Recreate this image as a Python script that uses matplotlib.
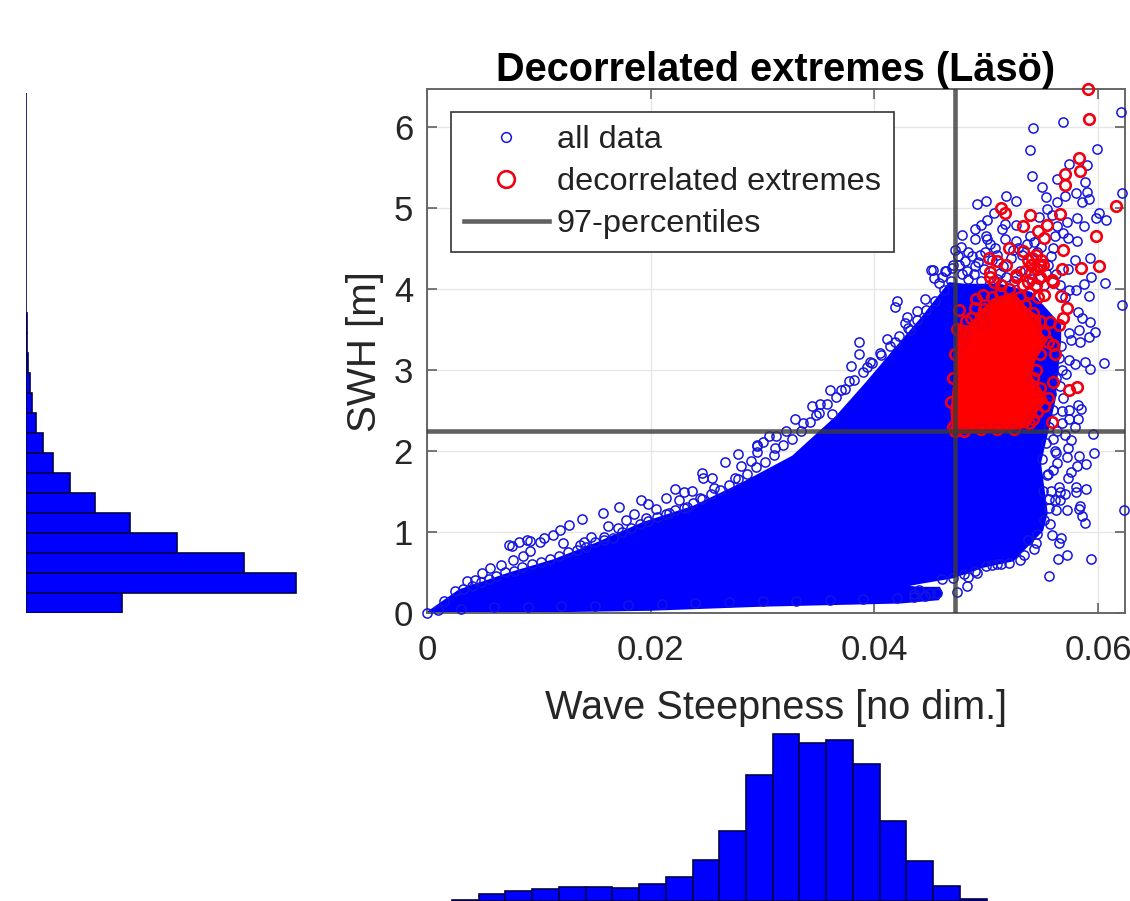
import matplotlib
matplotlib.use('Agg')
import matplotlib.pyplot as plt

plt.rcParams['font.family'] = ['Liberation Sans', 'DejaVu Sans']

cloud_x = [0, .0029, .0074, .0113, .0152, .0193, .0238, .0282, .0327, .0366, .0393, .0423, .0443, .0467, .0481, .0512, .0540, .0566,
           .0566, .0561, .0548, .0554, .0550, .0524, .0497, .0470, .0440, .0425, .0440, .0458, .0460, .0457, .0423, .0298, .0199, .0104, .0045]
cloud_y = [0, .28, .49, .65, .86, 1.11, 1.31, 1.60, 1.93, 2.42, 2.84, 3.33, 3.65, 4.07, 4.05, 4.05, 3.95, 3.55,
           3.37, 2.63, 1.85, 1.23, 1.02, .65, .57, .44, .37, .33, .31, .31, .25, .17, .13, .09, .04, .02, 0]
core_x = [.0470, .0469, .0473, .0475, .0485, .0494, .0506, .0524, .0537, .0548, .0549, .0554, .0543, .0540, .0546, .0554, .0546, .0537, .0512]
core_y = [2.22, 2.51, 3.08, 3.54, 3.54, 3.70, 3.87, 3.95, 3.74, 3.64, 3.45, 3.37, 3.12, 2.92, 2.81, 2.63, 2.51, 2.30, 2.24]

# single rings along the upper edge of the cloud
upper_edge = [(0, 0), (.0036, .39), (.0043, .41), (.0049, .49), (.0056, .55), (.0066, .59), (.0077, .65), (.0086, .70),
              (.0092, .76), (.0073, .84), (.0076, .83), (.0082, .88), (.0089, .90), (.0092, .89), (.0101, .88), (.0105, .92),
              (.0113, .96), (.0119, 1.03), (.0127, 1.09), (.0139, 1.16), (.0157, 1.24), (.0172, 1.31), (.0191, 1.40), (.0198, 1.35),
              (.0205, 1.28), (.0214, 1.42), (.0222, 1.53), (.0230, 1.49), (.0237, 1.51), (.0246, 1.73), (.0247, 1.66), (.0255, 1.66),
              (.0266, 1.86), (.0278, 1.96), (.0281, 1.81), (.0290, 1.87), (.0295, 2.06), (.0295, 1.99), (.0122, .86), (.0147, .94),
              (.0140, .88), (.0137, .84), (.0162, 1.07), (.0158, .94), (.0171, 1.05), (.0178, 1.15), (.0185, 1.22), (.0196, 1.17),
              (.0216, 1.23), (.0225, 1.40), (.0232, 1.31), (.0244, 1.42), (.0257, 1.54), (.0275, 1.66), (.0295, 2.07), (.0300, 2.11),
              (.0306, 2.18), (.0312, 2.18), (.0311, 2.03), (.0321, 2.25), (.0329, 2.40), (.0344, 2.56), (.0351, 2.58), (.0360, 2.75),
              (.0370, 2.75), (.0377, 2.86), (.0379, 3.05), (.0386, 3.35), (.0386, 3.20), (.0393, 3.04), (.0405, 3.21), (.0411, 3.38),
              (.0418, 3.77), (.0420, 3.85), (.0429, 3.65), (.0427, 3.58), (.0438, 3.73), (.0445, 3.88), (.0451, 4.23), (.0453, 4.14),
              (.0463, 4.22), (.0458, 4.07), (.0470, 4.30), (.0432, 3.49), (.0418, 3.35), (.0396, 3.10), (.0362, 2.46), (.0348, 2.44), (.0336, 2.34)]

# rings hugging the outline of the dense part
edge_fill = [(.0015, .15), (.0025, .27), (.0032, .30), (.0040, .33), (.0048, .38), (.0055, .42), (.0062, .46), (.0070, .50),
             (.0078, .52), (.0085, .57), (.0094, .60), (.0102, .63), (.0110, .67), (.0118, .70), (.0126, .75), (.0134, .78),
             (.0142, .82), (.0150, .87), (.0158, .90), (.0166, .93), (.0174, 1.00), (.0182, 1.05), (.0190, 1.10), (.0198, 1.14),
             (.0206, 1.18), (.0214, 1.22), (.0222, 1.27), (.0230, 1.30), (.0238, 1.36), (.0246, 1.41), (.0254, 1.47), (.0262, 1.52),
             (.0270, 1.58), (.0278, 1.65), (.0286, 1.72), (.0294, 1.80), (.0302, 1.86), (.0310, 1.95), (.0318, 2.07), (.0326, 2.15),
             (.0334, 2.25), (.0342, 2.36), (.0350, 2.47), (.0358, 2.58), (.0366, 2.67), (.0374, 2.76), (.0382, 2.88), (.0390, 2.98),
             (.0398, 3.08), (.0406, 3.18), (.0414, 3.30), (.0422, 3.42), (.0430, 3.52), (.0438, 3.62), (.0446, 3.74), (.0454, 3.85),
             (.0462, 3.98), (.0468, 4.10), (.0010, .04), (.0030, .05), (.0060, .07), (.0090, .08), (.0120, .09), (.0150, .09),
             (.0180, .10), (.0210, .11), (.0240, .12), (.0270, .13), (.0300, .15), (.0330, .15), (.0360, .16), (.0390, .17),
             (.0420, .19), (.0435, .20), (.0445, .21), (.0440, .28), (.0450, .25), (.0435, .24), (.0545, .98), (.0552, 1.15),
             (.0556, 1.30), (.0551, 1.50), (.0554, 1.70), (.0550, 1.90), (.0553, 2.10), (.0556, 2.30), (.0560, 2.50), (.0558, 2.70),
             (.0530, .66), (.0520, .62), (.0510, .60), (.0500, .58), (.0490, .52), (.0480, .48), (.0470, .43), (.0460, .42)]

# rings above and to the right of the dense part
top_scatter = [(.0620, 6.18), (.0569, 6.06), (.0542, 5.99), (.0539, 5.71), (.0599, 5.73), (.0541, 5.39), (.0574, 5.54), (.0590, 5.53),
               (.0563, 5.36), (.0588, 5.32), (.0550, 5.26), (.0590, 5.19), (.0580, 5.18), (.0621, 5.18), (.0553, 5.13), (.0570, 5.14),
               (.0592, 5.11), (.0586, 5.07), (.0518, 5.14), (.0527, 5.08), (.0500, 5.09), (.0492, 5.05), (.0563, 5.07), (.0554, 4.98),
               (.0601, 4.94), (.0598, 4.87), (.0607, 4.85), (.0581, 4.87), (.0587, 4.77), (.0559, 4.91), (.0547, 4.89), (.0572, 4.82),
               (.0501, 4.85), (.0507, 4.94), (.0495, 4.79), (.0490, 4.74), (.0517, 4.80), (.0514, 4.74), (.0527, 4.79), (.0563, 4.78),
               (.0561, 4.65), (.0569, 4.69), (.0573, 4.63), (.0581, 4.59), (.0539, 4.65), (.0517, 4.62), (.0500, 4.65), (.0501, 4.61),
               (.0478, 4.66), (.0490, 4.61), (.0527, 4.59), (.0477, 4.52), (.0508, 4.50), (.0528, 4.50), (.0560, 4.50), (.0579, 4.35),
               (.0593, 4.38), (.0573, 4.24), (.0594, 4.15), (.0484, 4.46), (.0487, 4.40), (.0494, 4.42), (.0475, 4.40), (.0481, 4.34),
               (.0490, 4.28), (.0452, 4.23), (.0464, 4.22), (.0469, 4.26), (.0460, 4.15), (.0498, 4.25), (.0505, 4.35), (.0515, 4.28),
               (.0522, 4.38), (.0530, 4.22), (.0545, 4.45), (.0555, 4.30), (.0562, 4.18), (.0478, 4.18), (.0484, 4.12), (.0495, 4.10),
               (.0510, 4.12), (.0525, 4.10), (.0541, 4.12), (.0552, 4.05), (.0566, 4.05), (.0574, 3.98), (.0570, 3.90), (.0472, 4.48),
               (.0476, 4.30), (.0483, 4.22), (.0489, 4.18), (.0493, 4.33), (.0499, 4.46), (.0503, 4.55), (.0510, 4.42), (.0512, 4.20),
               (.0518, 4.15), (.0524, 4.48), (.0532, 4.42), (.0536, 4.55), (.0543, 4.58), (.0549, 4.52), (.0553, 4.20), (.0558, 4.40)]
right_scatter = [(.0621, 3.80), (.0592, 3.91), (.0606, 4.07), (.0587, 4.06), (.0580, 3.99), (.0582, 3.71), (.0586, 3.64), (.0593, 3.59),
                 (.0597, 3.47), (.0583, 3.49), (.0574, 3.45), (.0576, 3.37), (.0584, 3.35), (.0592, 3.41), (.0605, 3.09), (.0588, 3.10),
                 (.0593, 3.01), (.0574, 3.12), (.0579, 3.07), (.0571, 2.95), (.0569, 2.65), (.0582, 2.57), (.0585, 2.52), (.0574, 2.51),
                 (.0574, 2.40), (.0582, 2.40), (.0568, 2.49), (.0579, 2.29), (.0595, 2.21), (.0576, 2.13), (.0596, 1.97), (.0583, 1.94),
                 (.0573, 2.03), (.0561, 2.00), (.0572, 1.93), (.0589, 1.84), (.0581, 1.81), (.0576, 1.74), (.0573, 1.67), (.0580, 1.56),
                 (.0589, 1.53), (.0580, 1.49), (.0570, 1.47), (.0566, 1.40), (.0584, 1.32), (.0583, 1.28), (.0572, 1.27), (.0562, 1.27),
                 (.0623, 1.27), (.0586, 1.20), (.0588, 1.11), (.0559, .96), (.0567, .93), (.0565, .86), (.0544, .86), (.0543, .79),
                 (.0534, .72), (.0537, .90), (.0572, .71), (.0564, .67), (.0594, .67), (.0556, .46), (.0513, .61), (.0505, .59),
                 (.0492, .49), (.0484, .45), (.0483, .33), (.0474, .26), (.0456, .25), (.0562, 1.97), (.0563, 1.85), (.0560, 1.77),
                 (.0565, 1.55), (.0566, 1.49), (.0557, 1.10), (.0555, 1.72), (.0561, 1.40), (.0558, 1.51), (.0556, 1.41), (.0567, 3.30),
                 (.0565, 3.15), (.0568, 3.00), (.0562, 2.90), (.0566, 2.80), (.0568, 2.35), (.0563, 2.25), (.0560, 2.15), (.0570, 2.20)]

# decorrelated extremes outside the solid red part
extremes = [(.0591, 6.46), (.0592, 6.09), (.0583, 5.61), (.0584, 5.46), (.0570, 5.42), (.0570, 5.28), (.0616, 5.02), (.0513, 5.00),
            (.0517, 4.93), (.0539, 4.91), (.0566, 4.92), (.0533, 4.77), (.0554, 4.79), (.0546, 4.71), (.0552, 4.63), (.0598, 4.65),
            (.0520, 4.50), (.0569, 4.48), (.0533, 4.47), (.0601, 4.28), (.0585, 4.26), (.0568, 4.24), (.0502, 4.38), (.0510, 4.34),
            (.0518, 4.30), (.0537, 4.36), (.0544, 4.42), (.0549, 4.36), (.0540, 4.30), (.0551, 4.30), (.0503, 4.21), (.0527, 4.17),
            (.0548, 4.15), (.0559, 4.11), (.0560, 4.08), (.0552, 3.93), (.0567, 3.91), (.0572, 3.76), (.0569, 3.64), (.0565, 3.56),
            (.0557, 3.59), (.0560, 3.31), (.0561, 3.19), (.0560, 2.85), (.0574, 2.75), (.0581, 2.79), (.0559, 2.36), (.0542, 2.40),
            (.0479, 3.47), (.0478, 3.35), (.0476, 3.74), (.0497, 3.93), (.0490, 3.76), (.0486, 3.64), (.0497, 3.58), (.0507, 4.08),
            (.0503, 4.15), (.0527, 4.15), (.0537, 4.08), (.0547, 4.13), (.0535, 4.22), (.0545, 4.25), (.0541, 4.38), (.0548, 4.28),
            (.0470, 2.30), (.0468, 2.60), (.0470, 2.90), (.0472, 3.20), (.0474, 3.50), (.0482, 3.60), (.0498, 3.75), (.0505, 3.90),
            (.0512, 3.95), (.0520, 4.00), (.0530, 3.90), (.0535, 3.80), (.0542, 3.70), (.0548, 3.60), (.0552, 3.45), (.0555, 3.35),
            (.0548, 3.20), (.0544, 3.00), (.0542, 2.90), (.0548, 2.78), (.0555, 2.65), (.0552, 2.55), (.0545, 2.48), (.0538, 2.35),
            (.0525, 2.27), (.0510, 2.27), (.0495, 2.27), (.0480, 2.25), (.0472, 2.25), (.0540, 4.20), (.0544, 4.05), (.0538, 3.95),
            (.0546, 3.90), (.0533, 4.05), (.0513, 4.05), (.0491, 3.88)]

steepness_pct = .0472
swh_pct = 2.25

# histogram of steepness (bars run off the bottom of the page)
steep_edges = [.00223, .00462, .00701, .00940, .01179, .01418, .01657, .01896, .02135, .02374, .02613,
               .02852, .03091, .03330, .03569, .03808, .04047, .04286, .04525, .04764, .05003]
steep_counts = [1, 7, 10, 12, 14, 14, 13, 17, 24, 41, 70, 126, 167, 158, 161, 137, 80, 40, 15, 2]

# histogram of SWH, one bar per .247 m from the bottom
swh_bin = .247
swh_counts = [96, 270, 218, 151, 104, 69, 44, 27, 17, 10, 6, 3.5, 1.5, 1, .7, .4, .3, .2, .15, .1, .1, .05, .05, .03, .02, .01]

W, H = 1130, 901
fig = plt.figure(figsize=(W / 100, H / 100), dpi=100)
L, R, T, B = 427, 1125, 89.5, 613
ax = fig.add_axes([L / W, 1 - B / H, (R - L) / W, (B - T) / H])

blue_pts = upper_edge + edge_fill + top_scatter + right_scatter
ax.fill(cloud_x, cloud_y, color='#0000ff', lw=1.5, zorder=2)
ax.plot([p[0] for p in blue_pts], [p[1] for p in blue_pts], 'o', mfc='none', mec='#1515e0', ms=6.6, mew=1.1,
        clip_on=False, zorder=3, label='all data')
ax.fill(core_x, core_y, color='#ff0000', lw=1.5, zorder=4)
ax.plot([p[0] for p in extremes], [p[1] for p in extremes], 'o', mfc='none', mec='#f00010', ms=7.6, mew=1.9,
        clip_on=False, zorder=5, label='decorrelated extremes')
ax.axvline(steepness_pct, color='#3a3a3a', alpha=.8, lw=3.3, zorder=6)
ax.axhline(swh_pct, color='#3a3a3a', alpha=.8, lw=3.3, zorder=6, label='97-percentiles')

ax.set_xlim(0, .0624)
ax.set_ylim(0, 6.46)
ax.set_xticks([0, .02, .04, .06])
ax.set_xticklabels(['0', '0.02', '0.04', '0.06'])
ax.set_yticks(range(7))
ax.grid(True, color='#e6e6e6', lw=1.0)
ax.set_axisbelow(True)
ax.tick_params(direction='in', top=True, right=True, length=7, width=1.1, color='#555555',
               labelsize=25, labelcolor='#262626')
ax.tick_params(axis='x', pad=15)
ax.tick_params(axis='y', pad=10)
for s in ax.spines.values():
    s.set_color('#666666')
    s.set_linewidth(1.4)
ax.set_title('Decorrelated extremes (Läsö)', fontsize=28.6, fontweight='bold', pad=6)
ax.set_xlabel('Wave Steepness [no dim.]', fontsize=28.6, color='#262626', labelpad=16)
ax.set_ylabel('SWH [m]', fontsize=29, color='#262626', labelpad=7)

leg = ax.legend(loc='upper left', bbox_to_anchor=((451 - L) / (R - L), (B - 112) / (B - T)), borderaxespad=0,
                fontsize=23.4, fancybox=False, framealpha=1, edgecolor='#333333', handlelength=2.6,
                handletextpad=.25, labelspacing=.37, borderpad=.4)
leg.set_zorder(10)
leg.get_frame().set_linewidth(1.2)
leg.legend_handles[0].set_markersize(7)
leg.legend_handles[1].set_markersize(12)
for t in leg.get_texts():
    t.set_color('#222222')

# bottom histogram, same steepness scale as the main axes
ax_b = fig.add_axes([L / W, 0, (R - L) / W, 170 / H])
ax_b.bar(steep_edges[:-1], steep_counts, width=[b - a for a, b in zip(steep_edges[:-1], steep_edges[1:])],
         align='edge', color='#0000ff', edgecolor='#000050', lw=1.2)
ax_b.set_xlim(0, .0624)
ax_b.set_ylim(0, 170)
ax_b.axis('off')

# left histogram, same SWH scale as the main axes
ax_l = fig.add_axes([26 / W, 1 - B / H, 272 / W, (B - T) / H])
ax_l.barh([i * swh_bin for i in range(len(swh_counts))], swh_counts, height=swh_bin, align='edge',
          color='#0000ff', edgecolor='#000050', lw=1.2)
ax_l.set_xlim(0, 272)
ax_l.set_ylim(0, 6.46)
ax_l.axis('off')

fig.savefig('out.png', dpi=100)
